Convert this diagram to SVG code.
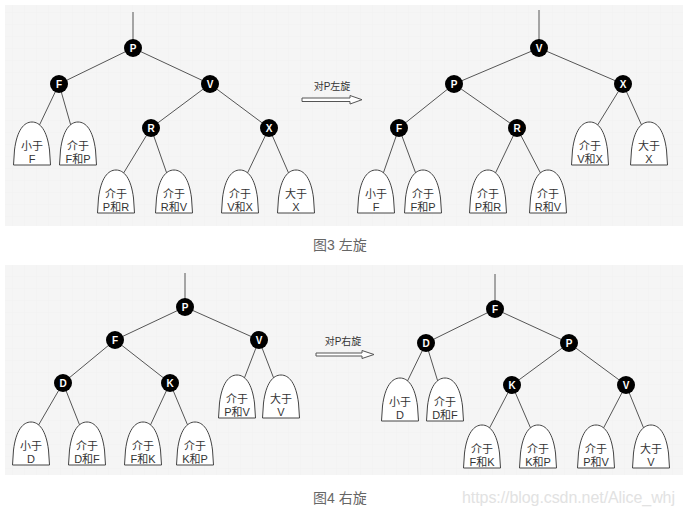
<svg xmlns="http://www.w3.org/2000/svg" xmlns:xlink="http://www.w3.org/1999/xlink" width="685" height="517" viewBox="0 0 685 517">
<style>
.edge{stroke:#555;stroke-width:1;fill:none}
.node circle{fill:#000}
.node text{fill:#fff;font-family:"Liberation Sans",sans-serif;font-size:10px;font-weight:bold;text-anchor:middle}
.leaf use{fill:#fff;stroke:#444;stroke-width:1}
.leaf text{fill:#333;font-family:"Liberation Sans","Noto Sans CJK SC",sans-serif;font-size:11px;text-anchor:middle}
.lbl{fill:#333;font-family:"Liberation Sans","Noto Sans CJK SC",sans-serif;font-size:10px;text-anchor:middle}
.arrow{fill:#fff;stroke:#555;stroke-width:1}
.cap{fill:#666;font-family:"Liberation Sans","Noto Sans CJK SC",sans-serif;font-size:14px}
</style>
<defs>
<path id="leafShape" d="M -18.5,43 L -17.5,28 C -15,8 -8,0 0,0 C 8,0 15,8 17.5,28 L 18.5,43 Z"/>
<pattern id="grid" width="12" height="12" patternUnits="userSpaceOnUse">
<path d="M12,0 L0,0 0,12" fill="none" stroke="#ececec" stroke-width="0.6"/>
</pattern>
</defs>
<rect width="685" height="517" fill="#fff"/>
<g id="panels">
<rect x="5" y="5" width="678" height="221" fill="#f5f5f5"/>
<rect x="5" y="5" width="678" height="221" fill="url(#grid)"/>
<rect x="5" y="265" width="678" height="210" fill="#f5f5f5"/>
<rect x="5" y="265" width="678" height="210" fill="url(#grid)"/>
</g>
<g id="connectors">
<!-- top-left -->
<line class="edge" x1="133" y1="12" x2="133" y2="48"/>
<line class="edge" x1="133" y1="48" x2="59" y2="84"/>
<line class="edge" x1="133" y1="48" x2="210" y2="84"/>
<line class="edge" x1="210" y1="84" x2="151" y2="128"/>
<line class="edge" x1="210" y1="84" x2="269" y2="128"/>
<line class="edge" x1="59" y1="84" x2="39" y2="126"/>
<line class="edge" x1="59" y1="84" x2="71" y2="126"/>
<line class="edge" x1="151" y1="128" x2="123" y2="174"/>
<line class="edge" x1="151" y1="128" x2="167" y2="174"/>
<line class="edge" x1="269" y1="128" x2="247" y2="174"/>
<line class="edge" x1="269" y1="128" x2="289" y2="174"/>
<!-- top-right -->
<line class="edge" x1="539" y1="10" x2="539" y2="48"/>
<line class="edge" x1="539" y1="48" x2="454" y2="84"/>
<line class="edge" x1="539" y1="48" x2="623" y2="84"/>
<line class="edge" x1="454" y1="84" x2="399" y2="128"/>
<line class="edge" x1="454" y1="84" x2="517" y2="128"/>
<line class="edge" x1="623" y1="84" x2="597" y2="126"/>
<line class="edge" x1="623" y1="84" x2="642" y2="126"/>
<line class="edge" x1="399" y1="128" x2="383" y2="174"/>
<line class="edge" x1="399" y1="128" x2="416" y2="174"/>
<line class="edge" x1="517" y1="128" x2="495" y2="174"/>
<line class="edge" x1="517" y1="128" x2="541" y2="174"/>
<!-- bottom-left -->
<line class="edge" x1="185" y1="273" x2="185" y2="307"/>
<line class="edge" x1="185" y1="307" x2="115" y2="340"/>
<line class="edge" x1="185" y1="307" x2="259" y2="340"/>
<line class="edge" x1="115" y1="340" x2="63" y2="383"/>
<line class="edge" x1="115" y1="340" x2="170" y2="383"/>
<line class="edge" x1="259" y1="340" x2="244" y2="379"/>
<line class="edge" x1="259" y1="340" x2="274" y2="379"/>
<line class="edge" x1="63" y1="383" x2="38" y2="426"/>
<line class="edge" x1="63" y1="383" x2="80" y2="426"/>
<line class="edge" x1="170" y1="383" x2="150" y2="426"/>
<line class="edge" x1="170" y1="383" x2="188" y2="426"/>
<!-- bottom-right -->
<line class="edge" x1="495" y1="274" x2="495" y2="309"/>
<line class="edge" x1="495" y1="309" x2="426" y2="343"/>
<line class="edge" x1="495" y1="309" x2="569" y2="343"/>
<line class="edge" x1="569" y1="343" x2="512" y2="385"/>
<line class="edge" x1="569" y1="343" x2="626" y2="385"/>
<line class="edge" x1="426" y1="343" x2="407" y2="382"/>
<line class="edge" x1="426" y1="343" x2="438" y2="382"/>
<line class="edge" x1="512" y1="385" x2="489" y2="429"/>
<line class="edge" x1="512" y1="385" x2="531" y2="429"/>
<line class="edge" x1="626" y1="385" x2="603" y2="429"/>
<line class="edge" x1="626" y1="385" x2="644" y2="429"/>
</g>
<!-- top-left nodes -->
<g id="tl-P" class="node"><circle cx="133" cy="48" r="9"/><text x="133" y="51.5">P</text></g>
<g id="tl-F" class="node"><circle cx="59" cy="84" r="9"/><text x="59" y="87.5">F</text></g>
<g id="tl-V" class="node"><circle cx="210" cy="84" r="9"/><text x="210" y="87.5">V</text></g>
<g id="tl-R" class="node"><circle cx="151" cy="128" r="9"/><text x="151" y="131.5">R</text></g>
<g id="tl-X" class="node"><circle cx="269" cy="128" r="9"/><text x="269" y="131.5">X</text></g>
<g id="tl-l1" class="leaf"><use href="#leafShape" x="32" y="122"/><text x="32" y="150">小于</text><text x="32" y="163">F</text></g>
<g id="tl-l2" class="leaf"><use href="#leafShape" x="78" y="122"/><text x="78" y="150">介于</text><text x="78" y="163">F和P</text></g>
<g id="tl-l3" class="leaf"><use href="#leafShape" x="116" y="170"/><text x="116" y="198">介于</text><text x="116" y="211">P和R</text></g>
<g id="tl-l4" class="leaf"><use href="#leafShape" x="174" y="170"/><text x="174" y="198">介于</text><text x="174" y="211">R和V</text></g>
<g id="tl-l5" class="leaf"><use href="#leafShape" x="240" y="170"/><text x="240" y="198">介于</text><text x="240" y="211">V和X</text></g>
<g id="tl-l6" class="leaf"><use href="#leafShape" x="296" y="170"/><text x="296" y="198">大于</text><text x="296" y="211">X</text></g>
<!-- top arrow -->
<g id="arrow-left-rotate">
<text class="lbl" x="332" y="90">对P左旋</text>
<path class="arrow" d="M302,98 L350,98 L350,95.5 L362,99.7 L350,104 L350,101.5 L302,101.5 Z"/>
</g>
<!-- top-right nodes -->
<g id="tr-V" class="node"><circle cx="539" cy="48" r="9"/><text x="539" y="51.5">V</text></g>
<g id="tr-P" class="node"><circle cx="454" cy="84" r="9"/><text x="454" y="87.5">P</text></g>
<g id="tr-X" class="node"><circle cx="623" cy="84" r="9"/><text x="623" y="87.5">X</text></g>
<g id="tr-F" class="node"><circle cx="399" cy="128" r="9"/><text x="399" y="131.5">F</text></g>
<g id="tr-R" class="node"><circle cx="517" cy="128" r="9"/><text x="517" y="131.5">R</text></g>
<g id="tr-l1" class="leaf"><use href="#leafShape" x="590" y="122"/><text x="590" y="150">介于</text><text x="590" y="163">V和X</text></g>
<g id="tr-l2" class="leaf"><use href="#leafShape" x="649" y="122"/><text x="649" y="150">大于</text><text x="649" y="163">X</text></g>
<g id="tr-l3" class="leaf"><use href="#leafShape" x="376" y="170"/><text x="376" y="198">小于</text><text x="376" y="211">F</text></g>
<g id="tr-l4" class="leaf"><use href="#leafShape" x="423" y="170"/><text x="423" y="198">介于</text><text x="423" y="211">F和P</text></g>
<g id="tr-l5" class="leaf"><use href="#leafShape" x="488" y="170"/><text x="488" y="198">介于</text><text x="488" y="211">P和R</text></g>
<g id="tr-l6" class="leaf"><use href="#leafShape" x="548" y="170"/><text x="548" y="198">介于</text><text x="548" y="211">R和V</text></g>
<text class="cap" x="313" y="250">图3 左旋</text>
<!-- bottom-left nodes -->
<g id="bl-P" class="node"><circle cx="185" cy="307" r="9"/><text x="185" y="310.5">P</text></g>
<g id="bl-F" class="node"><circle cx="115" cy="340" r="9"/><text x="115" y="343.5">F</text></g>
<g id="bl-V" class="node"><circle cx="259" cy="340" r="9"/><text x="259" y="343.5">V</text></g>
<g id="bl-D" class="node"><circle cx="63" cy="383" r="9"/><text x="63" y="386.5">D</text></g>
<g id="bl-K" class="node"><circle cx="170" cy="383" r="9"/><text x="170" y="386.5">K</text></g>
<g id="bl-l1" class="leaf"><use href="#leafShape" x="237" y="375"/><text x="237" y="403">介于</text><text x="237" y="416">P和V</text></g>
<g id="bl-l2" class="leaf"><use href="#leafShape" x="281" y="375"/><text x="281" y="403">大于</text><text x="281" y="416">V</text></g>
<g id="bl-l3" class="leaf"><use href="#leafShape" x="31" y="422"/><text x="31" y="450">小于</text><text x="31" y="463">D</text></g>
<g id="bl-l4" class="leaf"><use href="#leafShape" x="87" y="422"/><text x="87" y="450">介于</text><text x="87" y="463">D和F</text></g>
<g id="bl-l5" class="leaf"><use href="#leafShape" x="143" y="422"/><text x="143" y="450">介于</text><text x="143" y="463">F和K</text></g>
<g id="bl-l6" class="leaf"><use href="#leafShape" x="195" y="422"/><text x="195" y="450">介于</text><text x="195" y="463">K和P</text></g>
<!-- bottom arrow -->
<g id="arrow-right-rotate">
<text class="lbl" x="343" y="345">对P右旋</text>
<path class="arrow" d="M316,353 L362,353 L362,350.5 L374,354.5 L362,358.5 L362,356 L316,356 Z"/>
</g>
<!-- bottom-right nodes -->
<g id="br-F" class="node"><circle cx="495" cy="309" r="9"/><text x="495" y="312.5">F</text></g>
<g id="br-D" class="node"><circle cx="426" cy="343" r="9"/><text x="426" y="346.5">D</text></g>
<g id="br-P" class="node"><circle cx="569" cy="343" r="9"/><text x="569" y="346.5">P</text></g>
<g id="br-K" class="node"><circle cx="512" cy="385" r="9"/><text x="512" y="388.5">K</text></g>
<g id="br-V" class="node"><circle cx="626" cy="385" r="9"/><text x="626" y="388.5">V</text></g>
<g id="br-l1" class="leaf"><use href="#leafShape" x="400" y="378"/><text x="400" y="406">小于</text><text x="400" y="419">D</text></g>
<g id="br-l2" class="leaf"><use href="#leafShape" x="445" y="378"/><text x="445" y="406">介于</text><text x="445" y="419">D和F</text></g>
<g id="br-l3" class="leaf"><use href="#leafShape" x="482" y="425"/><text x="482" y="453">介于</text><text x="482" y="466">F和K</text></g>
<g id="br-l4" class="leaf"><use href="#leafShape" x="538" y="425"/><text x="538" y="453">介于</text><text x="538" y="466">K和P</text></g>
<g id="br-l5" class="leaf"><use href="#leafShape" x="596" y="425"/><text x="596" y="453">介于</text><text x="596" y="466">P和V</text></g>
<g id="br-l6" class="leaf"><use href="#leafShape" x="651" y="425"/><text x="651" y="453">大于</text><text x="651" y="466">V</text></g>
<text class="cap" x="313" y="503">图4 右旋</text>
<text x="462" y="503" fill="#e2e2e2" font-family="Liberation Sans, sans-serif" font-size="16" textLength="213">https://blog.csdn.net/Alice_whj</text>
</svg>
